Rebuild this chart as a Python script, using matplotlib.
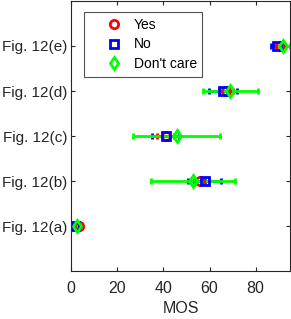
import matplotlib
matplotlib.use("Agg")
import matplotlib.pyplot as plt
from matplotlib.lines import Line2D
import numpy as np

plt.rcParams['font.family'] = ['Liberation Sans', 'DejaVu Sans']

labels = ["Fig. 12(a)", "Fig. 12(b)", "Fig. 12(c)", "Fig. 12(d)", "Fig. 12(e)"]
yes_mean = [3.5, 55.7, 41.0, 67.3, 90.5]
yes_err = [1.0, 2.5, 3.7, 3.0, 1.5]
no_mean = [1.5, 57.9, 40.9, 65.8, 89.5]
no_err = [1.0, 7.3, 6.0, 6.0, 2.8]
dc_mean = [2.3, 52.8, 45.8, 69.1, 92.0]
dc_err = [1.0, 18.2, 18.8, 12.1, 3.0]

fig = plt.figure(figsize=(2.91, 3.19), dpi=100)
ax = fig.add_axes([0.245, 0.150, 0.752, 0.847])

y = np.arange(1, len(labels) + 1)
series = [("Yes", yes_mean, yes_err, "r", "o"),
          ("No", no_mean, no_err, "b", "s"),
          ("Don't care", dc_mean, dc_err, "#00ff00", "d")]
handles = []
for name, m, e, c, mk in series:
    ax.errorbar(m, y, xerr=e, fmt=mk, color=c, ecolor=c, mfc='none', mec=c,
                ms=6, mew=2, elinewidth=2, capsize=2.5, capthick=2)
    handles.append(Line2D([], [], ls='none', marker=mk, mfc='none', mec=c, ms=6, mew=2, label=name))

ax.set_xlim(0, 95)
ax.set_ylim(0, 6)
ax.set_yticks(y)
ax.set_yticklabels(labels)
ax.set_xticks([0, 20, 40, 60, 80])
ax.set_xlabel("MOS", fontsize=11.5, color='#262626', labelpad=4)
ax.tick_params(direction='in', top=True, right=True, labelsize=11, colors='#262626', length=3)
ax.tick_params(axis='x', pad=7, labelsize=11.5)
ax.tick_params(axis='y', pad=3)
for s in ax.spines.values():
    s.set_color('#262626')
leg = ax.legend(handles=handles, loc='upper left', bbox_to_anchor=(0.059, 0.959), fontsize=10,
                frameon=True, fancybox=False, edgecolor='#262626', handlelength=3.38,
                borderpad=0.42, labelspacing=0.4, handletextpad=-0.25, borderaxespad=0)
leg.get_frame().set_linewidth(0.8)
fig.savefig("out.png", dpi=100)
